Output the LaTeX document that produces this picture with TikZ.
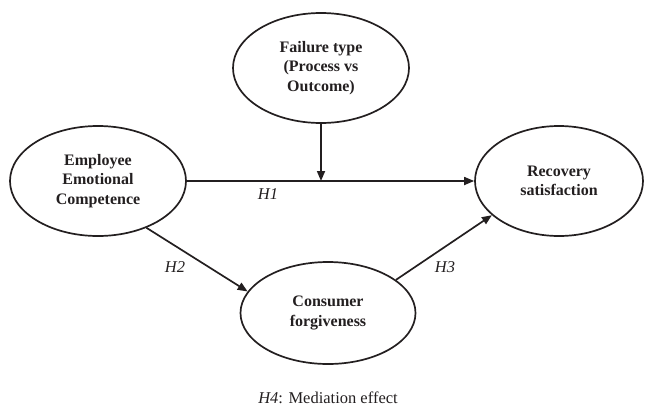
\documentclass[tikz,border=0pt]{standalone}
\usepackage{fontspec}
\setmainfont{Liberation Serif}
\usepackage{xcolor}
\definecolor{cMain}{HTML}{231F20}
\usepackage{tikz}
\usetikzlibrary{positioning,arrows.meta,shapes.geometric,calc}
\tikzset{
  node-var/.style={draw=cMain,line width=1.7pt,ellipse,inner sep=0pt,
    minimum width=176pt,minimum height=110pt,align=center,
    font=\fontsize{16}{19.5}\selectfont\bfseries,text=cMain},
  arrow/.style={-{Triangle[length=10pt,width=8pt]},line width=1.7pt,draw=cMain},
  hyp-label/.style={font=\fontsize{16.5}{19}\selectfont\itshape,text=cMain},
}

\begin{document}
\begin{tikzpicture}[x=1pt,y=-1pt]
  \useasboundingbox (0,0) rectangle (645,413);
  \node[node-var] (fail) at (321,68)  {Failure type\\(Process vs\\Outcome)};
  \node[node-var] (emp)  at (98,181)  {Employee\\Emotional\\Competence};
  \node[node-var,minimum width=168pt] (rec) at (559,181) {Recovery\\satisfaction};
  \node[node-var,minimum width=175pt,minimum height=102pt] (cons) at (328,313)
    {Consumer\\forgiveness};
  \coordinate (mod) at (321,181);
  % paths
  \draw[arrow] (emp) -- (rec);
  \draw[arrow] (fail) -- (mod);
  \draw[arrow] (emp.-44) -- (cons.165);
  \draw[arrow] (cons.26) -- (rec.207);
  \node[hyp-label] (h1) at (268,194) {H1};
  \node[hyp-label] (h2) at (175,267) {H2};
  \node[hyp-label] (h3) at (445,267) {H3};
  \node[font=\fontsize{16.5}{19}\selectfont,text=cMain] (h4) at (328,398)
    {\textit{H4}: Mediation effect};
\end{tikzpicture}
\end{document}
